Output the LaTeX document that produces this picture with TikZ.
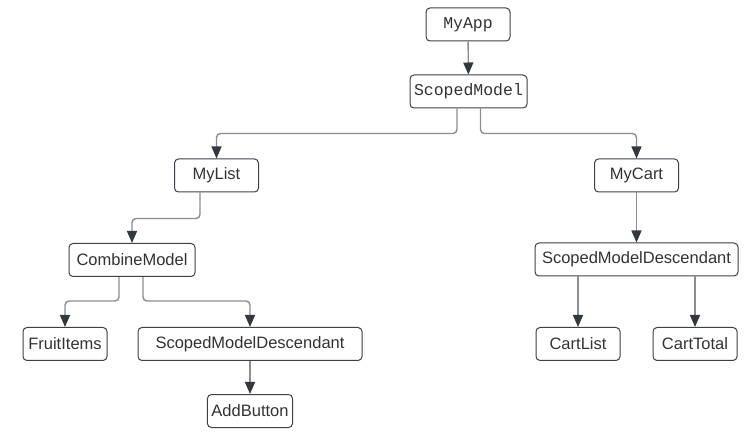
\documentclass[tikz,border=0pt]{standalone}
\usepackage{fontspec}
\setmainfont{Liberation Sans}
\setmonofont{Liberation Mono}
\usetikzlibrary{arrows.meta}
\usepackage{xcolor}
\definecolor{boxline}{HTML}{3D4148}
\definecolor{wireline}{HTML}{8C8C8C}
\definecolor{tipdark}{HTML}{33383E}
\definecolor{textdark}{HTML}{333333}

\begin{document}
\begin{tikzpicture}[
    x=1pt, y=-1pt,        % one unit = one pixel of the sketch, y downwards
    widget/.style = {
        rectangle, rounded corners = 4pt,
        minimum height = 33pt, inner xsep = 4pt, inner ysep = 0pt,
        draw = boxline, line width = 1pt, fill = white,
        text = textdark, font = \fontsize{16.5}{20}\selectfont
    },
    codebox/.style = {
        widget, font = \ttfamily\fontsize{16.5}{20}\selectfont
    },
    wire/.style = {
        draw = wireline, line width = 1.4pt, rounded corners = 4pt,
        -{Triangle[length=12pt, width=10pt, color=tipdark]}
    }
]
\useasboundingbox (0,0) rectangle (750,438);

% --- Nodes placed by absolute coordinates (px) ---
\node[codebox, minimum width = 84pt]  (app)       at (468, 24.5) {MyApp};

\node[codebox, minimum width = 117pt] (scoped)    at (468.5, 91.5) {ScopedModel};

\node[widget, minimum width = 84pt]   (mylist)    at (216.5, 175.5) {MyList};

\node[widget, minimum width = 84pt]   (mycart)    at (636.5, 175.5) {MyCart};

\node[widget, minimum width = 126pt]  (combine)   at (132, 260) {CombineModel};

\node[widget, minimum width = 203pt]  (cartdesc)  at (636.5, 259.5) {ScopedModelDescendant};

\node[widget, minimum width = 84pt]   (fruit)     at (65, 344) {FruitItems};

\node[widget, minimum width = 224pt]  (adddesc)   at (250, 344) {ScopedModelDescendant};

\node[widget, minimum width = 84pt]   (cartlist)  at (578, 344) {CartList};

\node[widget, minimum width = 84pt]   (carttotal) at (695, 344) {CartTotal};

\node[widget, minimum width = 84pt]   (addbutton) at (250, 411) {AddButton};

% --- Connectors ---
\draw[wire] (app) -- (scoped);

\draw[wire] ([xshift=-11.5pt]scoped.south) -- ++(0,25) -| (mylist.north);
\draw[wire] ([xshift=12pt]scoped.south)    -- ++(0,25) -| (mycart.north);

\draw[wire] ([xshift=-16.5pt]mylist.south) -- ++(0,26) -| (combine.north);

\draw[wire] ([xshift=-13pt]combine.south)  -- ++(0,24) -| (fruit.north);
\draw[wire] ([xshift=11pt]combine.south)   -- ++(0,24) -| (adddesc.north);

\draw[wire] (adddesc) -- (addbutton);

\draw[wire] (mycart) -- (cartdesc);

\draw[wire] (cartdesc.south -| cartlist) -- (cartlist);
\draw[wire] (cartdesc.south -| carttotal) -- (carttotal);

\end{tikzpicture}
\end{document}
